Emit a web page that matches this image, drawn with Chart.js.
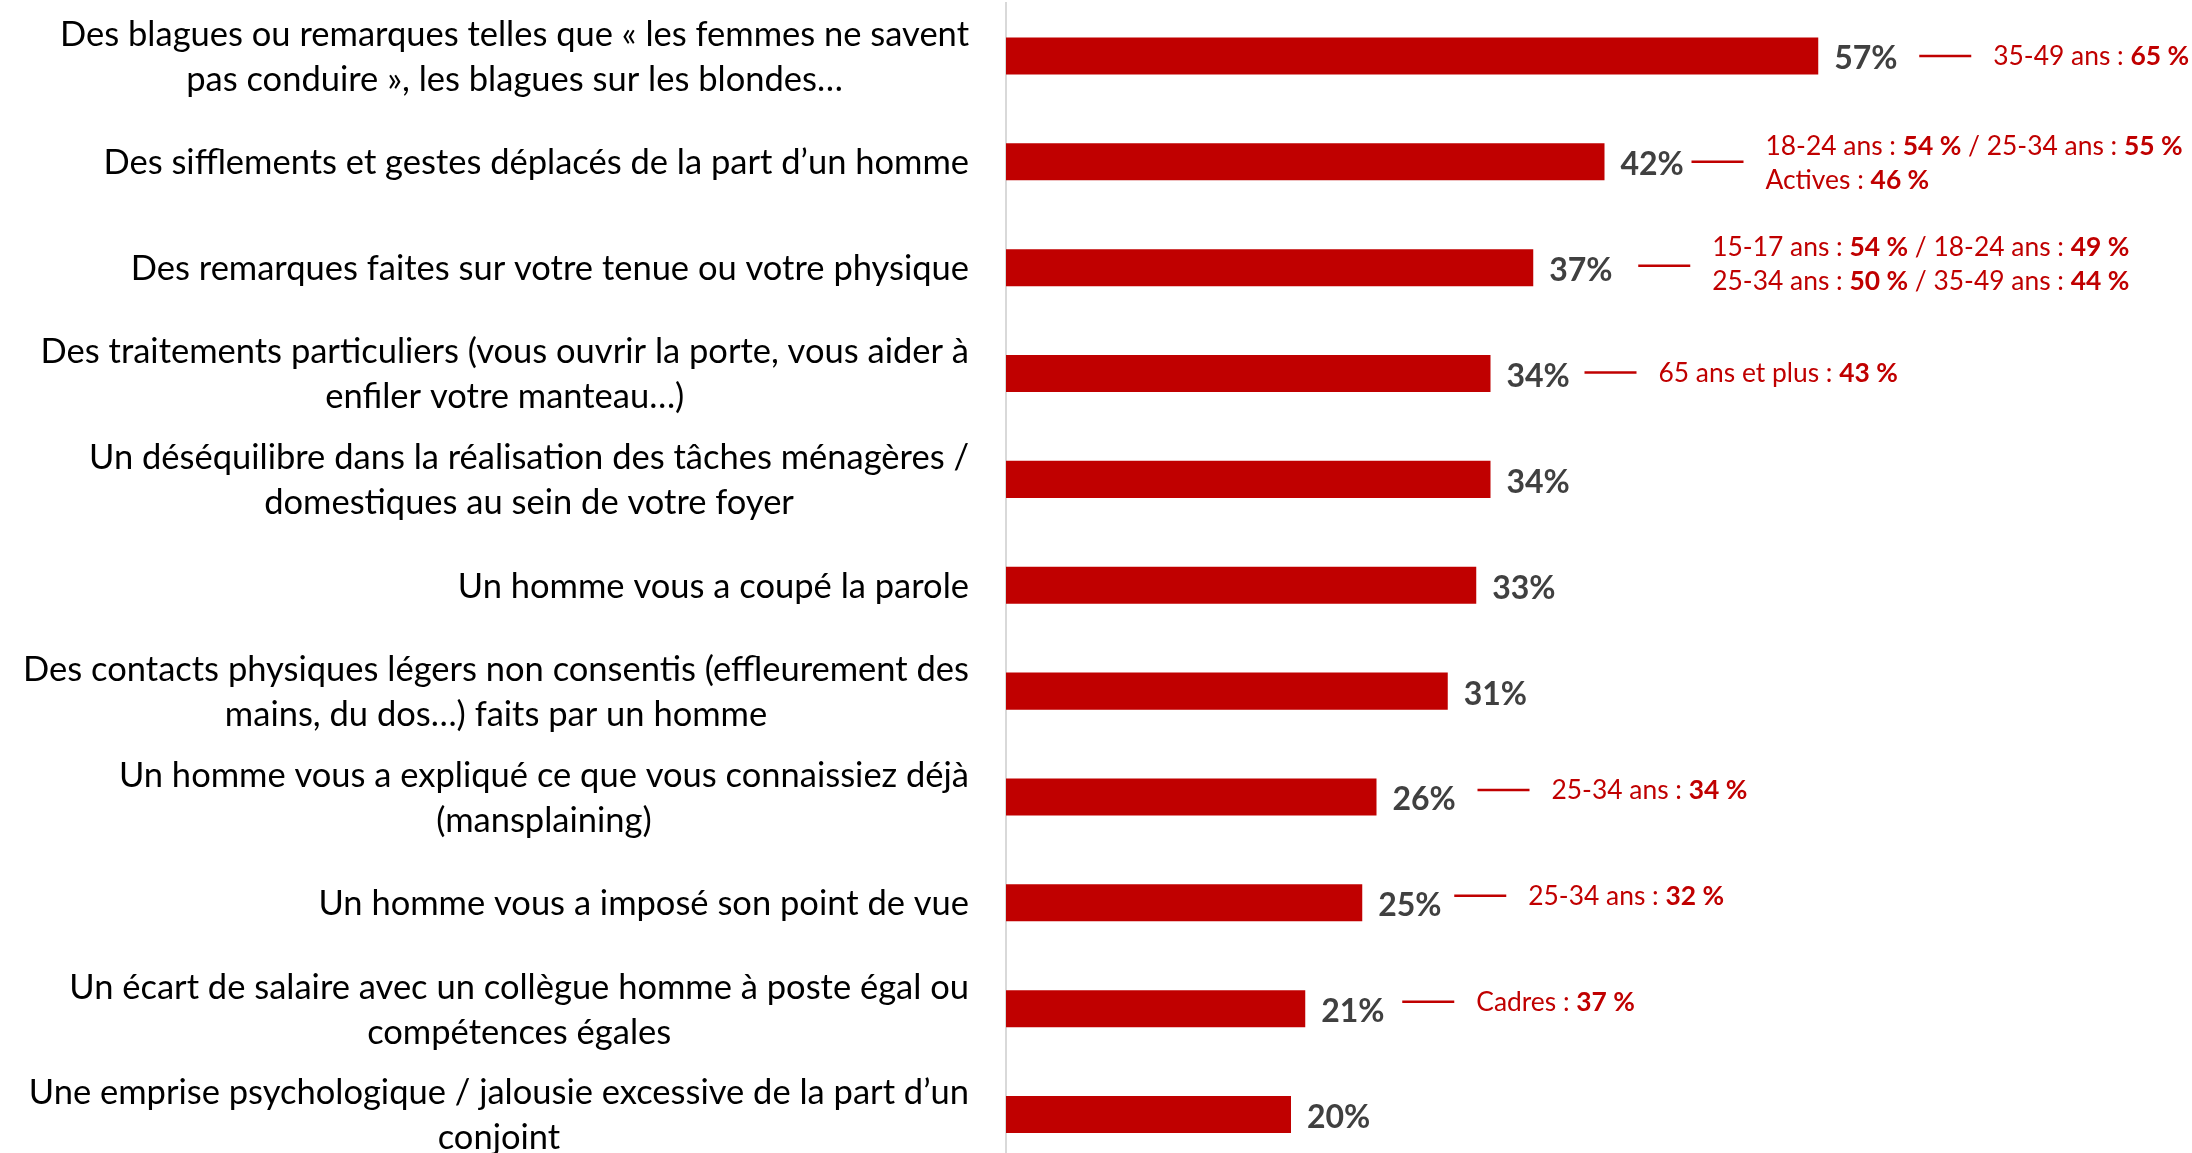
<!DOCTYPE html>
<html><head><meta charset="utf-8">
<script src="https://cdn.jsdelivr.net/npm/chart.js@4.4.1/dist/chart.umd.min.js"></script>
<style>
html,body{margin:0;padding:0;background:#fff;overflow:hidden;}
#wrap{width:2192px;height:1171px;position:relative;}
</style></head><body><div id="wrap"><canvas id="c"></canvas></div>
<script>
const categories = [
 ["Des blagues ou remarques telles que « les femmes ne savent","pas conduire », les blagues sur les blondes…"],
 ["Des sifflements et gestes déplacés de la part d’un homme"],
 ["Des remarques faites sur votre tenue ou votre physique"],
 ["Des traitements particuliers (vous ouvrir la porte, vous aider à","enfiler votre manteau…)"],
 ["Un déséquilibre dans la réalisation des tâches ménagères /","domestiques au sein de votre foyer"],
 ["Un homme vous a coupé la parole"],
 ["Des contacts physiques légers non consentis (effleurement des","mains, du dos…) faits par un homme"],
 ["Un homme vous a expliqué ce que vous connaissiez déjà","(mansplaining)"],
 ["Un homme vous a imposé son point de vue"],
 ["Un écart de salaire avec un collègue homme à poste égal ou","compétences égales"],
 ["Une emprise psychologique / jalousie excessive de la part d’un","conjoint"]
];
const values = [57,42,37,34,34,33,31,26,25,21,20];
const notes = [
 ["35-49 ans : **65 %**"],
 ["18-24 ans : **54 %** / 25-34 ans : **55 %**","Actives : **46 %**"],
 ["15-17 ans : **54 %** / 18-24 ans : **49 %**","25-34 ans : **50 %** / 35-49 ans : **44 %**"],
 ["65 ans et plus : **43 %**"],
 [],[],[],
 ["25-34 ans : **34 %**"],
 ["25-34 ans : **32 %**"],
 ["Cadres : **37 %**"],
 []
];

// layout / style settings
const RED = '#C00000';
const FONT = 'Lato';
const LABEL_SIZE = 34.5, LABEL_RIGHT = 969, LABEL_LH = 45;
const VALUE_SIZE = 32;
const NOTE_SIZE = 26.4;
const NOTE_DX = [4,-10,8,-3,0,0,0,4,-5,0,0];
const NOTE_LINE_DY = [0,0,-2,-1,0,0,0,-7,-7,-7,0];
const NOTE_TEXT_DY = [0,1,-4,-1,0,0,0,-7,-7,-7,0];

function drawRich(ctx, text, x, y, size){
  const parts = text.split('**');
  parts.forEach((p,k)=>{
    if(!p) return;
    ctx.font = (k%2 ? 'bold ' : '') + size + 'px ' + FONT;
    ctx.fillText(p, x, y);
    x += ctx.measureText(p).width;
  });
}

const overlay = {
  id:'overlay',
  afterDatasetsDraw(chart){
    const ctx = chart.ctx, ys = chart.scales.y, xs = chart.scales.x;
    ctx.save();
    categories.forEach((lines,i)=>{
      const cy = ys.getPixelForValue(i);
      ctx.font = LABEL_SIZE + 'px ' + FONT;
      const widest = Math.max(...lines.map(l=>ctx.measureText(l).width));
      const cx = LABEL_RIGHT - widest/2;
      ctx.textAlign='center'; ctx.textBaseline='alphabetic'; ctx.fillStyle='#000';
      const n = lines.length;
      lines.forEach((l,k)=>{
        ctx.fillText(l, cx, cy + (k-(n-1)/2)*LABEL_LH + LABEL_SIZE*0.36);
      });
      const xe = xs.getPixelForValue(values[i]);
      ctx.font = 'bold ' + VALUE_SIZE + 'px ' + FONT;
      ctx.fillStyle = '#404040'; ctx.textAlign='left';
      ctx.fillText(values[i] + '%', xe + 16, cy + VALUE_SIZE*0.36 + 2);
      const nl = notes[i];
      if(nl.length){
        const lx = xe + 97 + NOTE_DX[i];
        const ly = cy + NOTE_LINE_DY[i];
        ctx.strokeStyle = RED; ctx.lineWidth = 2.5;
        ctx.beginPath(); ctx.moveTo(lx, ly); ctx.lineTo(lx + 52, ly); ctx.stroke();
        ctx.fillStyle = RED;
        nl.forEach((t,k)=>{
          const ty = cy + NOTE_TEXT_DY[i] + (nl.length > 1 ? (k - 0.5)*34 : 0);
          drawRich(ctx, t, lx + 74, ty + NOTE_SIZE*0.36, NOTE_SIZE);
        });
      }
    });
    ctx.restore();
  }
};

new Chart(document.getElementById('c'), {
  type:'bar',
  data:{
    labels: categories.map(c=>c.join(' ')),
    datasets:[{data: values, backgroundColor: RED, borderWidth:0, barPercentage:0.5, categoryPercentage:0.7}]
  },
  options:{
    indexAxis:'y',
    responsive:true, maintainAspectRatio:false, animation:false,
    layout:{padding:{top:3, bottom:3.5, right:46, left:0}},
    plugins:{legend:{display:false}, tooltip:{enabled:false}},
    scales:{
      x:{display:false, min:0, max:80},
      y:{
        ticks:{display:false},
        grid:{display:false},
        border:{display:true, color:'#D9D9D9', width:2},
        afterFit(s){ s.width = 1006; }
      }
    }
  },
  plugins:[overlay]
});
</script></body></html>
